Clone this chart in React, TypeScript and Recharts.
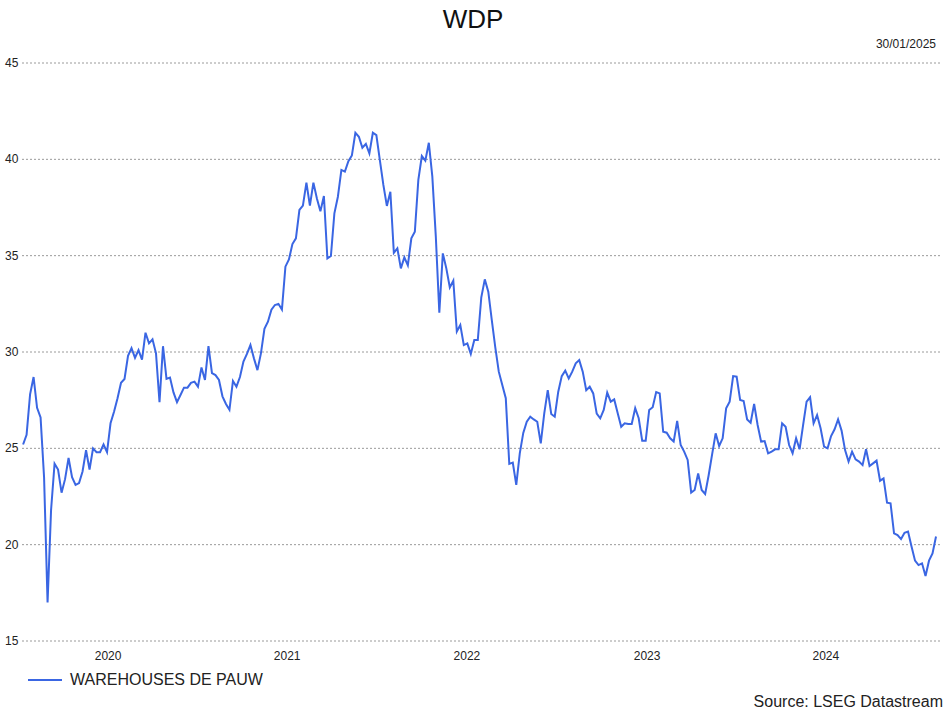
import { LineChart, Line, XAxis, YAxis, CartesianGrid } from "recharts"

const closePrices = [
  25.2, 25.7, 27.8, 28.7, 27.1, 26.6, 23.5, 17.0, 21.8, 24.2,
  23.9, 22.7, 23.4, 24.5, 23.5, 23.1, 23.2, 23.8, 24.9, 23.9,
  25.0, 24.8, 24.8, 25.2, 24.8, 26.3, 26.9, 27.6, 28.4, 28.6,
  29.8, 30.2, 29.7, 30.1, 29.6, 31.0, 30.45, 30.66, 29.93, 27.4,
  30.3, 28.6, 28.67, 27.9, 27.4, 27.77, 28.15, 28.15, 28.4, 28.46,
  28.2, 29.2, 28.55, 30.3, 28.9, 28.8, 28.55, 27.7, 27.3, 27.0,
  28.5, 28.2, 28.7, 29.5, 29.9, 30.36, 29.67, 29.06, 29.93, 31.2,
  31.57, 32.2, 32.44, 32.5, 32.2, 34.43, 34.8, 35.6, 35.9, 37.37,
  37.6, 38.79, 37.6, 38.79, 37.97, 37.3, 38.1, 34.86, 34.98, 37.2,
  38.06, 39.45, 39.36, 39.9, 40.2, 41.38, 41.17, 40.6, 40.8, 40.31,
  41.38, 41.26, 39.96, 38.67, 37.58, 38.32, 35.15, 35.38, 34.34, 34.91,
  34.5, 35.9, 36.24, 38.93, 40.17, 39.93, 40.86, 39.1, 35.98, 32.04,
  35.12, 34.34, 33.35, 33.7, 31.06, 31.4, 30.36, 30.45, 29.9, 30.62,
  30.62, 32.84, 33.77, 33.13, 31.66, 30.24, 28.98, 28.29, 27.6, 24.19,
  24.26, 23.1, 24.74, 25.8, 26.38, 26.64, 26.5, 26.38, 25.26, 26.82,
  28.02, 26.78, 26.64, 27.94, 28.75, 29.03, 28.63, 28.98, 29.41, 29.58,
  28.98, 28.02, 28.2, 27.85, 26.8, 26.56, 26.99, 27.89, 27.42, 27.54,
  26.82, 26.12, 26.3, 26.26, 26.26, 27.08, 26.56, 25.4, 25.4, 26.99,
  27.13, 27.92, 27.85, 25.86, 25.81, 25.52, 25.35, 26.42, 25.17, 24.83,
  24.4, 22.7, 22.84, 23.7, 22.84, 22.63, 23.6, 24.7, 25.78, 25.12,
  25.52, 27.08, 27.42, 28.75, 28.72, 27.51, 27.46, 26.5, 26.33, 27.3,
  26.21, 25.35, 25.38, 24.74, 24.83, 24.95, 24.95, 26.3, 26.12, 25.17,
  24.74, 25.52, 24.95, 26.21, 27.42, 27.65, 26.3, 26.73, 26.04, 25.09,
  25.0, 25.64, 25.99, 26.5, 25.92, 24.91, 24.31, 24.83, 24.43, 24.31,
  24.13, 24.95, 24.08, 24.22, 24.36, 23.32, 23.44, 22.18, 22.15, 20.59,
  20.5, 20.29, 20.62, 20.68, 19.9, 19.17, 18.94, 19.03, 18.37, 19.17,
  19.55, 20.42,
]

const yearLabels = ["2020", "2021", "2022", "2023", "2024"]
// where each year label sits, in weeks from the first observation
const yearTickAt = [24.3, 75.5, 126.9, 178.4, 229.5]
const priceTicks = [15, 20, 25, 30, 35, 40, 45]

const seriesName = "WAREHOUSES DE PAUW"
const lineColor = "#3a66e3"
const font = "'Liberation Sans', Arial, sans-serif"

const data = closePrices.map((price, i) => ({ i, price }))

function PriceTick({ y, payload }: any) {
  return (
    <text x={5} y={y} dy={4} fontSize={12} fill="#222" fontFamily={font} textAnchor="start">
      {payload.value}
    </text>
  )
}

export default function App() {
  return (
    <div style={{ position: "relative", width: 946, height: 715, background: "#fff", fontFamily: font }}>
      <style>{`body{margin:0}`}</style>
      <div style={{ position: "absolute", top: 4, left: 0, width: 946, textAlign: "center", fontSize: 26, color: "#111" }}>
        WDP
      </div>
      <div style={{ position: "absolute", top: 37, right: 10, fontSize: 12, color: "#222" }}>30/01/2025</div>

      <LineChart width={946} height={715} data={data} margin={{ top: 63, right: 6, bottom: 44, left: 0 }}>
        <CartesianGrid vertical={false} stroke="#9a9a9a" strokeDasharray="2 2" />
        <XAxis
          dataKey="i"
          type="number"
          domain={[-0.31, 262.14]}
          ticks={yearTickAt}
          interval={0}
          tickFormatter={(v) => yearLabels[yearTickAt.indexOf(v)]}
          axisLine={false}
          tickLine={false}
          tickMargin={4}
          height={30}
          tick={{ fontSize: 12, fill: "#222", fontFamily: font }}
          allowDataOverflow
        />
        <YAxis
          domain={[15, 45]}
          ticks={priceTicks}
          width={22}
          axisLine={false}
          tickLine={false}
          tick={<PriceTick />}
          allowDataOverflow
        />
        <Line
          type="linear"
          dataKey="price"
          name={seriesName}
          stroke={lineColor}
          strokeWidth={2}
          dot={false}
          isAnimationActive={false}
        />
      </LineChart>

      <div style={{ position: "absolute", top: 671, left: 28, display: "flex", alignItems: "center", fontSize: 16, color: "#222" }}>
        <span style={{ display: "inline-block", width: 34, height: 2, background: lineColor, marginRight: 8 }} />
        {seriesName}
      </div>
      <div style={{ position: "absolute", top: 693, right: 3, fontSize: 16, color: "#222" }}>Source: LSEG Datastream</div>
    </div>
  )
}
